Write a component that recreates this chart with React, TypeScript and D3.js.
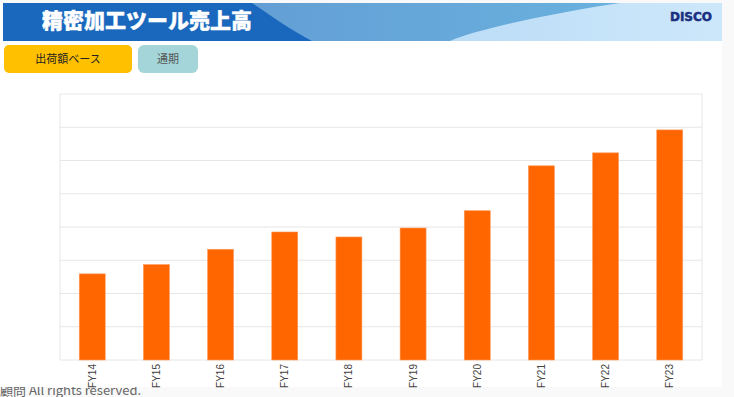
import React from "react";
import * as d3 from "d3";

const categories = ["FY14", "FY15", "FY16", "FY17", "FY18", "FY19", "FY20", "FY21", "FY22", "FY23"];
const sales = [259, 287, 333, 385, 370, 397, 449, 584, 623, 692];
const yTicks = [0, 100, 200, 300, 400, 500, 600, 700, 800];
const title = "精密加工ツール売上高";
const buttons = ["出荷額ベース", "通期"];

const W = 734;
const H = 397;
const plot = { left: 60, right: 702, top: 94, bottom: 360 };

export default function App() {
  const x = d3.scaleBand<string>().domain(categories).range([plot.left, plot.right]).paddingInner(0.595).paddingOuter(0.3);
  const y = d3.scaleLinear().domain([0, 800]).range([plot.bottom, plot.top]);
  const font = "'Noto Sans CJK JP', 'Noto Sans', sans-serif";

  return (
    <svg width={W} height={H} style={{ position: "fixed", left: 0, top: 0 }} fontFamily={font}>
      <defs>
        <linearGradient id="mid" x1="0" x2="1" y1="0" y2="0">
          <stop offset="0" stopColor="#5f92cf" />
          <stop offset="1" stopColor="#69b1de" />
        </linearGradient>
        <linearGradient id="light" x1="0" x2="1" y1="0" y2="0">
          <stop offset="0" stopColor="#9fcdf3" />
          <stop offset="1" stopColor="#cde7fa" />
        </linearGradient>
        <clipPath id="hdr">
          <rect x={3} y={3} width={719} height={38} />
        </clipPath>
        <clipPath id="foot">
          <rect x={0} y={387} width={W} height={10} />
        </clipPath>
      </defs>
      <rect x={0} y={0} width={W} height={H} fill="#f9f9f9" />
      <rect x={0} y={3} width={722} height={384} fill="#ffffff" />
      <text x={0} y={395} fontSize={13} fill="#666" clipPath="url(#foot)" fontFamily="'Noto Sans CJK JP', sans-serif">
        顧問 All rights reserved.
      </text>

      <g clipPath="url(#hdr)">
        <rect x={3} y={3} width={719} height={38} fill="url(#light)" />
        <path d="M3,3 L620,3 C560,12 480,28 450,41 L3,41 Z" fill="url(#mid)" />
        <path d="M3,3 L252,3 C270,15 290,30 312,41 L3,41 Z" fill="#1a68bd" />
      </g>
      <text x={42} y={28} fontSize={21} fontWeight="900" fill="#ffffff" stroke="#ffffff" strokeWidth={0.4}>{title}</text>
      <text x={712} y={21} fontSize={12} fontWeight="bold" fill="#1a2f80" textAnchor="end" fontFamily="'DejaVu Sans', sans-serif" stroke="#1a2f80" strokeWidth={0.5}>DISCO</text>

      <rect x={4} y={45} width={128} height={28} rx={5} fill="#ffc000" />
      <text x={68} y={63} fontSize={11} fill="#222" textAnchor="middle">{buttons[0]}</text>
      <rect x={138} y={45} width={60} height={28} rx={6} fill="#a3d5d9" />
      <text x={168} y={63} fontSize={11} fill="#555" textAnchor="middle">{buttons[1]}</text>

      {yTicks.map((t) => (
        <line key={t} x1={plot.left} x2={plot.right} y1={y(t)} y2={y(t)} stroke="#e6e6e6" strokeWidth={1} />
      ))}
      <line x1={plot.left} x2={plot.left} y1={plot.top} y2={plot.bottom} stroke="#e6e6e6" />
      <line x1={plot.right} x2={plot.right} y1={plot.top} y2={plot.bottom} stroke="#e6e6e6" />

      {categories.map((c, i) => (
        <rect key={c} x={x(c)} y={y(sales[i])} width={x.bandwidth()} height={plot.bottom - y(sales[i])} fill="#ff6600" stroke="#ff9a5a" strokeWidth={0.6} />
      ))}

      {categories.map((c) => {
        const cx = (x(c) as number) + x.bandwidth() / 2;
        return (
          <text key={c} transform={`translate(${cx + 3.5},364) rotate(-90)`} fontSize={10} fill="#444" textAnchor="end" fontFamily="'Liberation Sans', Arial, sans-serif">
            {c}
          </text>
        );
      })}
    </svg>
  );
}
